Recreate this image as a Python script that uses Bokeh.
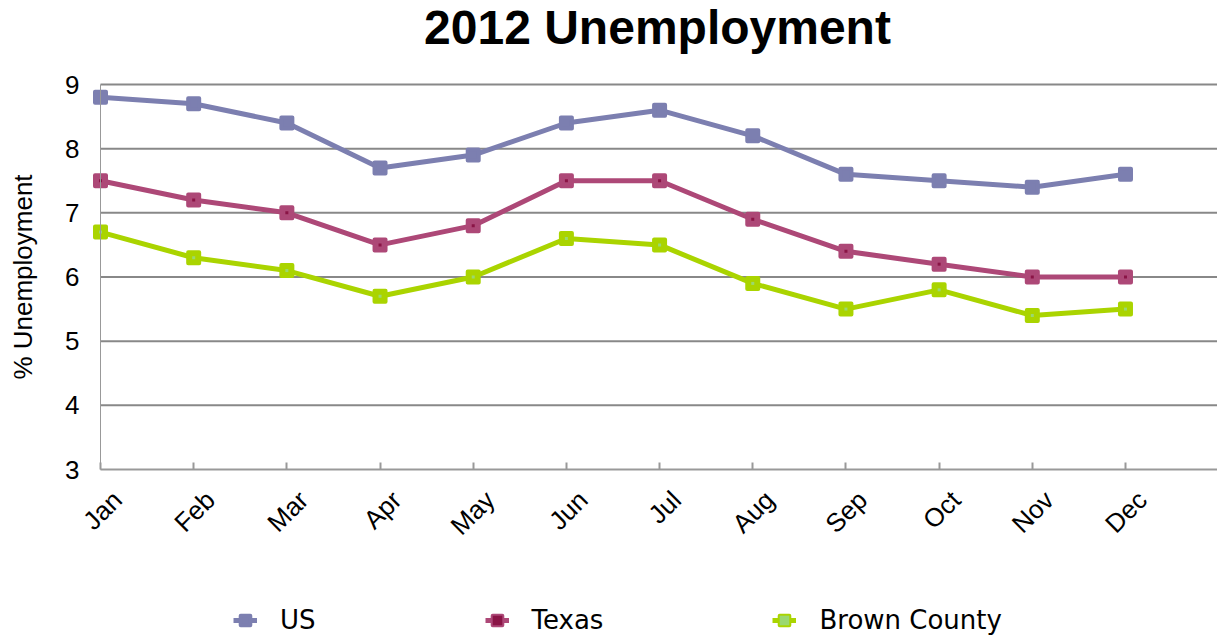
from bokeh.plotting import figure
from bokeh.models import Range1d, FixedTicker, Legend, LegendItem, LinearAxis, Label
from bokeh.embed import file_html
from bokeh.resources import INLINE
from math import pi

title_text = "2012 Unemployment"
y_label = "% Unemployment"
months = ["Jan", "Feb", "Mar", "Apr", "May", "Jun", "Jul", "Aug", "Sep", "Oct", "Nov", "Dec"]
us = [8.8, 8.7, 8.4, 7.7, 7.9, 8.4, 8.6, 8.2, 7.6, 7.5, 7.4, 7.6]
texas = [7.5, 7.2, 7.0, 6.5, 6.8, 7.5, 7.5, 6.9, 6.4, 6.2, 6.0, 6.0]
brown = [6.7, 6.3, 6.1, 5.7, 6.0, 6.6, 6.5, 5.9, 5.5, 5.8, 5.4, 5.5]
y_ticks = [3, 4, 5, 6, 7, 8, 9]

xs = list(range(len(months)))
Y_MIN, Y_MAX = 3, 9

# ---- layout (pixels) ----
W, H = 1217, 636
PLOT_LEFT, PLOT_TOP, PLOT_BOTTOM = 100, 84, 469   # where the value axes sit on the page
PX_X = 93.18                                       # pixels per month
PX_Y = (PLOT_BOTTOM - PLOT_TOP) / (Y_MAX - Y_MIN)
X_LO = -PLOT_LEFT / PX_X
X_HI = (W - PLOT_LEFT) / PX_X
Y_LO = Y_MIN - (H - PLOT_BOTTOM) / PX_Y
Y_HI = Y_MAX + PLOT_TOP / PX_Y
LABEL_SHIFT = 0.18                                 # month labels sit a little right of ticks
TITLE_X_PX, TITLE_BASE_PX = 657, 27
YLABEL_X_PX = 22

p = figure(width=W, height=H, output_backend="svg", toolbar_location=None,
           x_range=Range1d(X_LO, X_HI), y_range=Range1d(Y_LO, Y_HI),
           min_border_left=0, min_border_right=0, min_border_top=0, min_border_bottom=0,
           title=None)
p.outline_line_color = None
p.background_fill_color = "white"
p.border_fill_color = "white"
p.xgrid.grid_line_color = None
p.ygrid.grid_line_color = None

# title
p.add_layout(Label(x=X_LO + TITLE_X_PX / PX_X, y=Y_HI - TITLE_BASE_PX / PX_Y,
                   text=title_text, text_align="center", text_baseline="alphabetic",
                   text_font="Liberation Sans", text_font_size="48px",
                   text_font_style="bold", text_color="black"))

# horizontal grid lines from the first month to the right edge
grid_y = [t for t in y_ticks if t > Y_MIN]
p.segment(x0=[0] * len(grid_y), x1=[X_HI] * len(grid_y), y0=grid_y, y1=grid_y,
          line_color="#888888", line_width=2)

# x axis line and ticks at y = 3
p.xaxis.fixed_location = Y_MIN
p.xaxis.bounds = (0, X_HI)
p.xaxis.ticker = FixedTicker(ticks=xs)
p.xaxis.major_label_overrides = {i: "" for i in xs}
p.xaxis.major_label_text_font_size = "0px"
p.xaxis.axis_line_color = "#999999"
p.xaxis.axis_line_width = 2
p.xaxis.major_tick_in = 7
p.xaxis.major_tick_out = 0
p.xaxis.major_tick_line_color = "#999999"
p.xaxis.major_tick_line_width = 2
p.xaxis.minor_tick_line_color = None

# month labels
p.extra_x_ranges = {"lab": Range1d(X_LO - LABEL_SHIFT, X_HI - LABEL_SHIFT)}
lab_axis = LinearAxis(x_range_name="lab", fixed_location=Y_MIN,
                      ticker=FixedTicker(ticks=xs),
                      major_label_overrides={i: m for i, m in enumerate(months)},
                      major_label_orientation=pi / 4,
                      major_label_text_font="Liberation Sans",
                      major_label_text_font_size="26px",
                      major_label_text_color="black",
                      major_label_standoff=20,
                      axis_line_color=None, major_tick_line_color=None,
                      minor_tick_line_color=None)
p.add_layout(lab_axis, "below")

# y axis at the first month
p.yaxis.fixed_location = 0
p.yaxis.bounds = (Y_MIN, Y_MAX)
p.yaxis.ticker = FixedTicker(ticks=y_ticks)
p.yaxis.major_label_text_font = "Liberation Sans"
p.yaxis.major_label_text_font_size = "26px"
p.yaxis.major_label_text_color = "black"
p.yaxis.major_label_standoff = 15
p.yaxis.axis_line_color = "#999999"
p.yaxis.axis_line_width = 1
p.yaxis.major_tick_line_color = None
p.yaxis.minor_tick_line_color = None

p.add_layout(Label(x=X_LO + YLABEL_X_PX / PX_X, y=(Y_MIN + Y_MAX) / 2, text=y_label,
                   angle=pi / 2, text_align="center", text_baseline="middle",
                   text_font="Liberation Sans", text_font_size="26px",
                   text_color="black"))

series = [
    ("US", us, "#7C7FB0", None),
    ("Texas", texas, "#AD4877", "#8A1446"),
    ("Brown County", brown, "#AAD400", "#9AD870"),
]

items = []
for name, vals, col, inner in series:
    r1 = p.line(xs, vals, line_color=col, line_width=5)
    r2 = p.scatter(xs, vals, marker="square", size=11, fill_color=col,
                   line_color=col, line_width=4, line_join="round")
    rs = [r1, r2]
    if inner:
        r3 = p.scatter(xs, vals, marker="square", size=3, fill_color=inner, line_color=None)
        rs.append(r3)
    items.append(LegendItem(label=name, renderers=rs))

legend = Legend(items=items, orientation="horizontal", location=(233, 1),
                label_text_font="DejaVu Sans", label_text_font_size="26px",
                label_text_color="black", glyph_width=24, glyph_height=24,
                label_standoff=23, spacing=169, border_line_color=None,
                background_fill_alpha=0, padding=0, margin=0)
p.add_layout(legend, "center")

open("out.html", "w").write(file_html(p, INLINE))
